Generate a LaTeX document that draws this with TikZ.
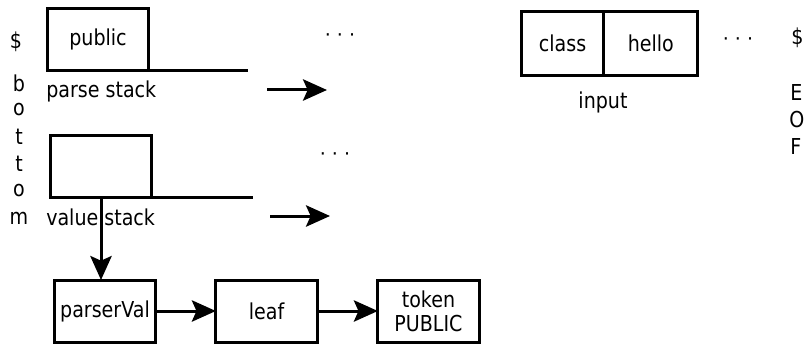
\documentclass[tikz,border=0pt]{standalone}
\usepackage{fontspec}
\setmainfont{DejaVu Sans}
\usetikzlibrary{arrows, arrows.meta}
\usetikzlibrary{positioning}
\newcommand{\tx}[1]{\scalebox{1}[1.15]{#1}}

\tikzset{
  cell/.style={draw, line width=2.25pt, inner sep=0pt, outer sep=0pt, minimum width=76pt, minimum height=46.5pt, align=center},
  arr/.style={line width=2.25pt, -{Stealth[length=18pt, width=16pt, inset=3.5pt]}},
  dots/.style={inner sep=0pt}
}

\begin{document}
\begin{tikzpicture}[x=0.75pt, y=-0.75pt, font=\fontsize{14.3}{18}\selectfont]
				\useasboundingbox (0,0) rectangle (805,345);
				% bottom marker
				\node (dollarL) at (16,42) {\tx{\$}};
				\foreach \ch [count=\i] in {b,o,t,t,o,m}
					\node (bot\i) at (19,56+27*\i) {\tx{\ch}};
				
				% parse stack
				\node[cell] (ps) at (98,39.5) {\tx{public}};
				\coordinate (psend) at (248,70.5);
				\draw[line width=2.25pt] (ps.south east) -- (psend);
				\node[anchor=west, inner sep=0pt] (pslabel) at (46,91) {\tx{parse stack}};
				\node[dots] (psdots) at (340,38) {· · ·};
				\coordinate (psa) at (267,90);
				\coordinate (psb) at (327,90);
				\draw[arr] (psa) -- (psb);
				
				% value stack
				\node[cell] (vs) at (101,166.5) {};
				\coordinate (vsend) at (253,197.5);
				\draw[line width=2.25pt] (vs.south east) -- (vsend);
				\node[anchor=west, inner sep=0pt] (vslabel) at (46,217) {\tx{value stack}};
				\node[dots] (vsdots) at (335,157) {· · ·};
				\coordinate (vsa) at (270,216);
				\coordinate (vsb) at (330,216);
				\draw[arr] (vsa) -- (vsb);
				
				% value chain
				\node[cell] (pv) at (105,311) {\tx{parserVal}};
				\node[cell] (leaf) at (266.5,311) {\tx{leaf}};
				\node[cell] (tok) at (428.5,311) {\tx{token}\\\tx{PUBLIC}};
				\coordinate (vstop) at (101,197.5);
				\draw[arr] (vstop) -- (vstop |- pv.north);
				\draw[arr] (pv.east) -- (leaf.west);
				\draw[arr] (leaf.east) -- (tok.west);
				
				% input
				\node[cell, minimum width=62pt, minimum height=48pt] (cls) at (562.5,43.5) {\tx{class}};
				\node[cell, minimum width=70.5pt, minimum height=48pt, right=0pt of cls] (hello) {\tx{hello}};
				\node (inlabel) at (603,102) {\tx{input}};
				\node[dots] (indots) at (738,42) {· · ·};
				\node[anchor=west, inner sep=0pt] (dollarR) at (791,38) {\tx{\$}};
				\node[anchor=west, inner sep=0pt] (eofE) at (790,93) {\tx{E}};
				\node[anchor=west, inner sep=0pt] (eofO) at (789,120) {\tx{O}};
				\node[anchor=west, inner sep=0pt] (eofF) at (790,147) {\tx{F}};
			\end{tikzpicture}
\end{document}
